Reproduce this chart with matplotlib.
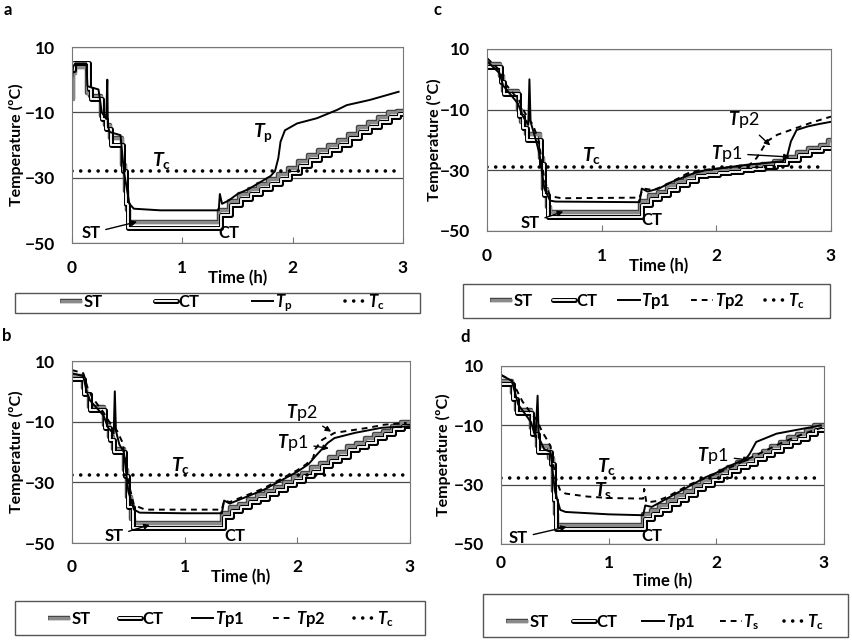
import matplotlib.pyplot as plt
import matplotlib.patheffects as pe
from matplotlib.patches import Rectangle

plt.rcParams['font.family'] = ['Lato', 'DejaVu Sans']
plt.rcParams['mathtext.fontset'] = 'custom'
plt.rcParams['mathtext.rm'] = 'Lato:bold'
plt.rcParams['mathtext.it'] = 'Lato:italic:bold'
plt.rcParams['mathtext.bf'] = 'Lato:bold'

# ---- panel a ----
a_st_t = [0.00, 0.01, 0.03, 0.14, 0.16, 0.26, 0.30, 0.34, 0.45, 0.48, 0.50, 0.52,
          1.33, 1.42, 1.51, 1.60, 1.69, 1.78, 1.87, 1.96, 2.05, 2.14, 2.23, 2.32, 2.41,
          2.50, 2.59, 2.68, 2.77, 2.86, 2.95, 3.00]
a_st = [-6, 2, 4, -4, -5, -11, -14, -18, -26, -34, -40, -43.5,
        -40, -37, -35, -33.5, -32, -30.5, -29, -27, -25, -23, -21.5, -20, -18.5,
        -16.5, -14.5, -13, -11.5, -10, -9.5, -9.5]
a_ct_t = [0.00, 0.02, 0.15, 0.17, 0.27, 0.31, 0.35, 0.46, 0.49, 0.51,
          1.35, 1.44, 1.53, 1.62, 1.71, 1.80, 1.89, 1.98, 2.07, 2.16, 2.25, 2.34, 2.43,
          2.52, 2.61, 2.70, 2.79, 2.88, 2.96, 3.00]
a_ct = [3, 5, -3, -6, -12, -15, -20, -28, -38, -45.5,
        -41.5, -38.5, -36.5, -35, -33.5, -32, -30.5, -28.5, -26.5, -24.5, -23, -21.5, -20,
        -18, -16, -14.5, -13, -11.5, -10.5, -10.5]
a_tp_t = [0.00, 0.01, 0.03, 0.13, 0.14, 0.24, 0.27, 0.31, 0.32, 0.325, 0.34, 0.44, 0.47,
          0.52, 0.56, 0.80, 1.33, 1.34, 1.36, 1.42, 1.50, 1.60, 1.70, 1.80, 1.84, 1.87,
          1.89, 1.93, 2.04, 2.22, 2.40, 2.49, 2.70, 2.96]
a_tp = [0, 4, 5, 5, -2, -3, -10, -12, 0, -14, -16, -17, -28,
        -38, -39.5, -40, -40, -35, -38, -37, -35, -33.5, -31.5, -29.5, -28, -24,
        -19, -15.5, -13.4, -11.8, -9.3, -7.8, -6.2, -3.7]
a_tc = -28

# ---- panel b ----
b_st_t = [0.00, 0.10, 0.12, 0.15, 0.28, 0.33, 0.36, 0.46, 0.49, 0.52, 0.55,
          1.33, 1.40, 1.48, 1.56, 1.64, 1.72, 1.80, 1.88, 1.96, 2.04, 2.12, 2.20, 2.28,
          2.36, 2.44, 2.52, 2.60, 2.68, 2.76, 2.84, 2.92, 3.00]
b_st = [5, 1, -1, -5, -11, -15, -19, -26, -35, -42, -43.5,
        -40, -38, -37, -35.5, -34, -33, -31.5, -30, -28, -27, -25, -23.5, -21.5,
        -20, -18, -17, -15.5, -14, -13, -11.5, -10, -10]
b_ct_t = [0.00, 0.11, 0.16, 0.29, 0.34, 0.37, 0.47, 0.50, 0.54,
          1.35, 1.42, 1.50, 1.58, 1.66, 1.74, 1.82, 1.90, 1.98, 2.06, 2.14, 2.22, 2.30,
          2.38, 2.46, 2.54, 2.62, 2.70, 2.78, 2.86, 2.94, 3.00]
b_ct = [4, -1, -6, -12, -16, -20, -28, -38, -45,
        -41.5, -39.5, -38, -36.5, -35.5, -34, -32.5, -31, -29.5, -28, -26.5, -24.5, -23,
        -21.5, -19.5, -18.5, -17, -15.5, -14, -12.5, -11.5, -11.5]
b_tp1_t = [0.00, 0.10, 0.13, 0.16, 0.28, 0.32, 0.37, 0.38, 0.39, 0.42, 0.46, 0.50, 0.55,
           0.60, 1.00, 1.33, 1.35, 1.40, 1.50, 1.60, 1.70, 1.80, 1.90, 2.00, 2.10, 2.17,
           2.22, 2.27, 2.33, 2.51, 2.75, 3.00]
b_tp1 = [6, 5, 0, -3, -8, -12, -14, 0, -13, -17.5, -20, -33, -39,
         -40, -40.2, -40.2, -36, -37, -35.5, -34, -32.5, -30.5, -28.5, -26.5, -24, -21,
         -19, -17, -15.4, -13.7, -12, -11.5]
b_tp2_t = [0.00, 0.10, 0.14, 0.18, 0.28, 0.33, 0.40, 0.45, 0.50, 0.55, 0.65, 1.33,
           1.35, 1.40, 1.50, 1.60, 1.70, 1.80, 1.90, 2.00, 2.08, 2.14, 2.16, 2.22, 2.33,
           2.63, 2.77, 2.97]
b_tp2 = [7, 6, 1, -2, -7, -10, -13, -17, -30, -37.5, -39, -39,
         -36, -36.5, -35, -33.5, -32, -30, -28, -26, -24, -22, -19, -16, -13.7,
         -12, -11, -10.4]
b_tc = -27.7

# ---- panel c ----
c_st_t = [0.00, 0.11, 0.14, 0.27, 0.30, 0.34, 0.46, 0.49, 0.52, 0.55,
          1.33, 1.41, 1.49, 1.57, 1.65, 1.73, 1.81, 1.89, 1.98, 2.10, 2.20, 2.30, 2.40,
          2.50, 2.60, 2.70, 2.80, 2.90, 2.97, 3.00]
c_st = [5, 1, -4, -10, -14, -18, -26, -36, -42, -43.6,
        -40, -38, -37, -35, -33.5, -32, -31, -30.5, -30, -29.5, -29, -28.5, -28,
        -27, -25.5, -24, -22.5, -21.5, -20, -20]
c_ct_t = [0.00, 0.12, 0.15, 0.28, 0.31, 0.35, 0.47, 0.50, 0.53,
          1.35, 1.43, 1.51, 1.59, 1.67, 1.75, 1.83, 1.92, 2.02, 2.12, 2.22, 2.32, 2.42,
          2.52, 2.62, 2.72, 2.82, 2.92, 3.00]
c_ct = [4, -1, -5, -12, -16, -20, -28, -38, -45.3,
        -41.5, -39.5, -38, -36.5, -35, -33.5, -32, -31.5, -31, -30.5, -30, -29.5, -29,
        -28, -26.5, -25, -23.5, -22.5, -22.5]
c_tp1_t = [0.00, 0.11, 0.14, 0.27, 0.31, 0.36, 0.37, 0.38, 0.43, 0.46, 0.50, 0.55, 0.60,
           1.33, 1.35, 1.40, 1.50, 1.60, 1.70, 1.80, 1.90, 2.00, 2.10, 2.20, 2.30, 2.40,
           2.50, 2.58, 2.62, 2.65, 2.70, 2.80, 2.90, 3.00]
c_tp1 = [6, 2, -2, -8, -12, -15, 0, -14, -20.5, -25, -36, -40, -40.3,
         -40.5, -36, -37, -36, -34, -32.5, -31, -30, -29.5, -29, -28.5, -28, -27.7,
         -27.3, -27, -25, -20.5, -16.7, -15.5, -14.7, -14]
c_tp2_t = [0.00, 0.11, 0.15, 0.28, 0.33, 0.40, 0.45, 0.50, 0.55, 0.65, 1.33,
           1.36, 1.45, 1.55, 1.65, 1.75, 1.85, 2.00, 2.10, 2.20, 2.29, 2.35, 2.40, 2.44,
           2.53, 2.70, 2.85, 3.00]
c_tp2 = [7, 3, -1, -7, -11, -15, -20, -33, -38.5, -39.2, -39,
         -36, -36.5, -35, -33, -31, -30, -29.5, -29, -28.5, -28.2, -26, -23, -20.5,
         -18.3, -16, -14, -12.3]
c_tc = -29

# ---- panel d ----
d_st_t = [0.00, 0.10, 0.12, 0.14, 0.28, 0.33, 0.45, 0.48, 0.50, 0.52,
          1.32, 1.39, 1.47, 1.55, 1.63, 1.71, 1.79, 1.87, 1.95, 2.03, 2.11, 2.19, 2.27,
          2.35, 2.43, 2.51, 2.59, 2.67, 2.75, 2.83, 2.91, 3.00]
d_st = [5, 1, -1, -5, -11, -17, -21, -32, -40, -43.7,
        -40, -38.5, -37, -35, -33.5, -32, -30, -28.5, -27, -25.5, -24, -22.5, -21.5,
        -20, -18.5, -17, -15.5, -14, -13, -11.5, -10, -10]
d_ct_t = [0.00, 0.11, 0.15, 0.29, 0.34, 0.46, 0.49, 0.51,
          1.34, 1.41, 1.49, 1.57, 1.65, 1.73, 1.81, 1.89, 1.97, 2.05, 2.13, 2.21, 2.29,
          2.37, 2.45, 2.53, 2.61, 2.69, 2.77, 2.85, 2.93, 3.00]
d_ct = [4, -1, -6, -13, -19, -23, -35, -44.8,
        -41.5, -40, -38.5, -36.5, -35, -33.5, -31.5, -30, -28.5, -27, -25.5, -24, -23,
        -21.5, -20, -18.5, -17, -15.5, -14.5, -13, -11.5, -11.5]
d_tp1_t = [0.00, 0.10, 0.13, 0.16, 0.28, 0.32, 0.34, 0.35, 0.40, 0.46, 0.50, 0.55, 0.60,
           1.00, 1.32, 1.34, 1.40, 1.50, 1.60, 1.70, 1.80, 1.90, 2.00, 2.10, 2.20, 2.27,
           2.31, 2.37, 2.56, 2.81, 2.97]
d_tp1 = [7, 5, 1, -3, -9, -14, 0, -14, -18, -19, -32, -38.5, -39.2,
         -40, -40.3, -37, -37.5, -35.5, -33.5, -31.5, -29.5, -27.5, -26, -24, -22.5, -21.5,
         -19.6, -15.6, -12.8, -11.1, -10]
d_ts_t = [0.00, 0.10, 0.13, 0.20, 0.28, 0.33, 0.38, 0.42, 0.46, 0.49, 0.52, 0.55, 0.60,
          0.80, 1.00, 1.32, 1.33, 1.35, 1.45, 1.55, 1.65, 1.75, 1.85, 1.95, 2.05, 2.20,
          2.40, 2.60, 2.80, 3.00]
d_ts = [7, 5, 3, -2, -6, -8, -12, -14.4, -17, -24, -29, -32, -33,
        -34, -34.5, -34.7, -31.4, -36, -35.5, -34, -32, -30, -28.5, -27, -25.5, -23,
        -19.5, -16, -13, -10.5]
d_tc = -27.6

TC = r'$T_\mathrm{c}$'

W, H = 852, 640
fig = plt.figure(figsize=(W / 100, H / 100), dpi=100)


def px_axes(l, t, r, b):
    return fig.add_axes([l / W, 1 - b / H, (r - l) / W, (b - t) / H])


st_fx = [pe.Stroke(linewidth=3.2, foreground='#454545'), pe.Normal()]
ct_fx = [pe.Stroke(linewidth=3.6, foreground='black'), pe.Normal()]


def draw_panel(ax, st_t, st, ct_t, ct, lines, tc):
    ax.plot(st_t, st, drawstyle='steps-post', color='#8a8a8a', lw=2.2,
            solid_capstyle='butt', path_effects=st_fx, label='ST')
    ax.plot(ct_t, ct, drawstyle='steps-post', color='#f4f4f4', lw=1.4,
            solid_capstyle='round', path_effects=ct_fx, label='CT')
    for t, v, ls, lab in lines:
        ax.plot(t, v, color='black', lw=1.4, ls=ls, label=lab)
    ax.plot([0.0, 2.95], [tc, tc], color='black', lw=2.6, ls=(0, (0.01, 2.4)),
            dash_capstyle='round', label=TC)
    ax.set_xlim(0, 3)
    ax.set_ylim(-50, 10)
    ax.set_xticks([0, 1, 2, 3])
    ax.set_yticks([10, -10, -30, -50])
    ax.grid(axis='y', color='#4a4a4a', lw=0.9)
    ax.set_axisbelow(True)
    for s in ax.spines.values():
        s.set_color('#777777')
    ax.tick_params(axis='x', direction='in', length=4, color='#777777')
    ax.tick_params(axis='y', length=0, pad=12)
    for lab in ax.get_xticklabels() + ax.get_yticklabels():
        lab.set_fontsize(12.5)
        lab.set_fontweight('bold')
    ax.set_xlabel('Time (h)', fontsize=12, fontweight='bold')
    ax.set_ylabel('Temperature (ºC)', fontsize=11.5, fontweight='bold')


def legend_box(ax, box, inner, yc):
    x0, y0, x1, y1 = box
    fig.patches.append(Rectangle((x0 / W, 1 - y1 / H), (x1 - x0) / W, (y1 - y0) / H,
                                 transform=fig.transFigure, fill=False,
                                 ec='#555555', lw=1))
    h, l = ax.get_legend_handles_labels()
    ix0, ix1 = inner
    fig.legend(h, l, loc='center', ncol=len(h), mode='expand', frameon=False,
               bbox_to_anchor=(ix0 / W, 1 - (yc + 8) / H, (ix1 - ix0) / W, 16 / H),
               bbox_transform=fig.transFigure, handlelength=1.3, handletextpad=0.1,
               borderaxespad=0, borderpad=0, prop={'size': 12, 'weight': 'bold'})


arrow = dict(arrowstyle='-|>', color='black', lw=1, mutation_scale=8, shrinkA=2, shrinkB=0)

# a
ax = px_axes(72, 47, 403, 243)
draw_panel(ax, a_st_t, a_st, a_ct_t, a_ct, [(a_tp_t, a_tp, '-', r'$T_\mathrm{p}$')], a_tc)
ax.tick_params(axis='x', pad=12)
ax.xaxis.labelpad = -4
ax.yaxis.set_label_coords(-0.145, 0.5)
ax.text(1.73, -16.3, r'$T_\mathrm{p}$', fontsize=14, ha='center', va='center')
ax.text(0.81, -24.6, TC, fontsize=14, ha='center', va='center')
ax.annotate('ST', xy=(0.59, -43.5), xytext=(0.17, -47), fontsize=12, fontweight='bold',
            ha='center', va='center', arrowprops=arrow)
ax.text(1.42, -47, 'CT', fontsize=12, fontweight='bold', ha='center', va='center')
legend_box(ax, (15, 293, 420, 313), (60, 385), 303)

# c
ax = px_axes(487, 49, 831, 231)
draw_panel(ax, c_st_t, c_st, c_ct_t, c_ct,
           [(c_tp1_t, c_tp1, '-', r'$T$p1'), (c_tp2_t, c_tp2, (0, (3, 2.5)), r'$T$p2')], c_tc)
ax.tick_params(axis='x', pad=12)
ax.xaxis.labelpad = -4
ax.yaxis.set_label_coords(-0.13, 0.5)
ax.text(0.91, -25, TC, fontsize=14, ha='center', va='center')
ax.annotate('ST', xy=(0.665, -43.6), xytext=(0.375, -47.3), fontsize=12, fontweight='bold',
            ha='center', va='center', arrowprops=arrow)
ax.text(1.44, -46.4, 'CT', fontsize=12, fontweight='bold', ha='center', va='center')
ax.annotate(r'$T$p2', xy=(2.47, -21.8), xytext=(2.235, -13.4), fontsize=13,
            ha='center', va='center', arrowprops=arrow)
ax.annotate(r'$T$p1', xy=(2.64, -25.6), xytext=(2.09, -24.4), fontsize=13,
            ha='center', va='center', arrowprops=arrow)
legend_box(ax, (463, 284, 830, 318), (490, 805), 301)

# b
ax = px_axes(72, 361, 410, 543)
draw_panel(ax, b_st_t, b_st, b_ct_t, b_ct,
           [(b_tp1_t, b_tp1, '-', r'$T$p1'), (b_tp2_t, b_tp2, (0, (3, 2.5)), r'$T$p2')], b_tc)
ax.tick_params(axis='x', pad=11.5)
ax.xaxis.labelpad = -4
ax.yaxis.set_label_coords(-0.142, 0.5)
ax.text(0.96, -24.3, TC, fontsize=14, ha='center', va='center')
ax.annotate('ST', xy=(0.69, -44), xytext=(0.37, -47.7), fontsize=12, fontweight='bold',
            ha='center', va='center', arrowprops=arrow)
ax.text(1.45, -47.7, 'CT', fontsize=12, fontweight='bold', ha='center', va='center')
ax.annotate(r'$T$p2', xy=(2.30, -13.3), xytext=(2.04, -7), fontsize=13,
            ha='center', va='center', arrowprops=arrow)
ax.annotate(r'$T$p1', xy=(2.28, -18.8), xytext=(1.96, -17), fontsize=13,
            ha='center', va='center', arrowprops=arrow)
legend_box(ax, (15, 601, 425, 635), (48, 394), 619)

# d
ax = px_axes(501, 366, 824, 544)
draw_panel(ax, d_st_t, d_st, d_ct_t, d_ct,
           [(d_tp1_t, d_tp1, '-', r'$T$p1'), (d_ts_t, d_ts, (0, (3, 2.5)), r'$T_\mathrm{s}$')], d_tc)
ax.tick_params(axis='x', pad=8)
ax.xaxis.labelpad = 1
ax.yaxis.set_label_coords(-0.155, 0.5)
ax.text(0.98, -23.9, TC, fontsize=14, ha='center', va='center')
ax.text(0.95, -31.8, r'$T_\mathrm{s}$', fontsize=14, ha='center', va='center')
ax.annotate('ST', xy=(0.61, -44.2), xytext=(0.16, -48), fontsize=12, fontweight='bold',
            ha='center', va='center', arrowprops=arrow)
ax.text(1.40, -47.3, 'CT', fontsize=12, fontweight='bold', ha='center', va='center')
ax.annotate(r'$T$p1', xy=(2.31, -21.7), xytext=(1.97, -20.3), fontsize=13,
            ha='center', va='center', arrowprops=arrow)
legend_box(ax, (483, 594, 848, 637), (506, 824), 622)

for txt, x, y in [('a', 8, 10), ('c', 437, 10), ('b', 7, 336), ('d', 465, 337)]:
    fig.text(x / W, 1 - y / H, txt, fontsize=12, fontweight='bold', ha='center', va='center')

fig.savefig('out.png', dpi=100)
